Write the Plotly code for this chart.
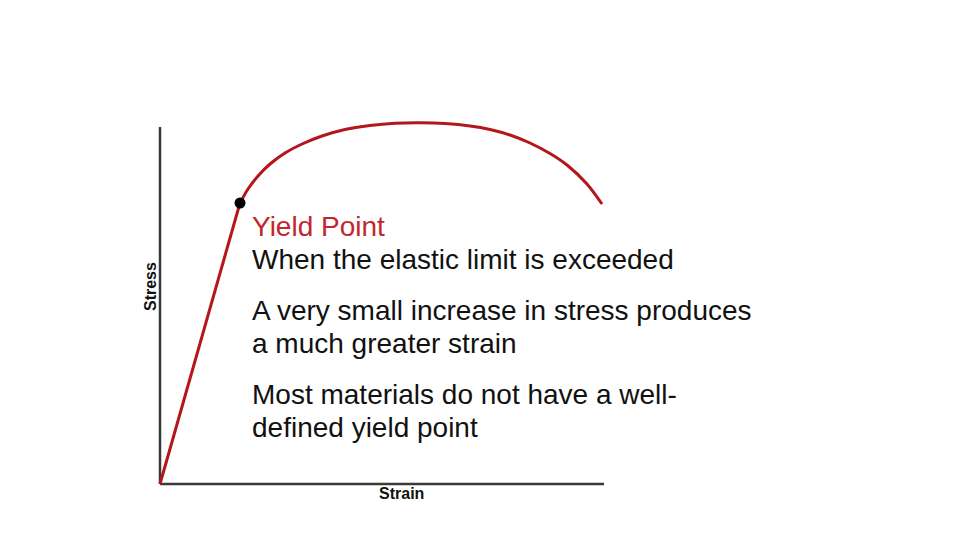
import plotly.graph_objects as go

# ---- data (arbitrary units) ----
elastic_strain = [0.0, 8.0]
elastic_stress = [0.0, 28.1]

plastic_strain = [8.0, 8.8, 9.8, 11.0, 12.5, 14.2, 16.2, 18.5, 21.0, 23.5, 26.0,
                  28.5, 31.0, 33.0, 35.0, 37.0, 39.0, 40.7, 42.7, 44.2]
plastic_stress = [28.1, 29.5, 30.8, 32.0, 33.1, 34.0, 34.8, 35.45, 35.85, 36.07, 36.12,
                  36.04, 35.8, 35.45, 34.9, 34.1, 33.05, 31.9, 30.0, 28.0]

yield_point = (8.0, 28.1)
axis_max_strain = 44.4
axis_max_stress = 35.7

x_label = "Strain"
y_label = "Stress"
title_line = "Yield Point"
body_lines = [
    "When the elastic limit is exceeded",
    "A very small increase in stress produces",
    "a much greater strain",
    "Most materials do not have a well-",
    "defined yield point",
]

# ---- layout helpers ----
W, H = 960, 540
OFF = 8  # page body margin
ML, MR, MT, MB = 142, 354, 92, 54
PW, PH = W - ML - MR, H - MT - MB


def px(x):
    return (x - OFF - ML) / PW


def py(y):
    return (H - MB - (y - OFF)) / PH


RED = "#B3161C"
TEXT_RED = "#C0282D"
AXIS = "#3a3a3a"

fig = go.Figure()
fig.add_trace(go.Scatter(x=elastic_strain, y=elastic_stress, mode="lines",
                         line=dict(color=RED, width=3), hoverinfo="skip"))
fig.add_trace(go.Scatter(x=plastic_strain, y=plastic_stress, mode="lines",
                         line=dict(color=RED, width=3, shape="spline", smoothing=0.8),
                         hoverinfo="skip"))
fig.add_trace(go.Scatter(x=[yield_point[0]], y=[yield_point[1]], mode="markers",
                         marker=dict(color="black", size=11), hoverinfo="skip"))

fig.add_shape(type="line", x0=0, y0=0, x1=0, y1=axis_max_stress,
              line=dict(color=AXIS, width=2.5), layer="below")
fig.add_shape(type="line", x0=0, y0=0, x1=axis_max_strain, y1=0,
              line=dict(color=AXIS, width=2.5), layer="below")

font_family = "Liberation Sans, Arial, sans-serif"
TXT = 28

ann = []
ann.append(dict(text=title_line, x=px(250), y=py(226), xref="paper", yref="paper",
                xanchor="left", yanchor="middle", showarrow=False,
                font=dict(family=font_family, size=TXT, color=TEXT_RED)))
ys = [259, 310, 343, 394, 427]
for t, yy in zip(body_lines, ys):
    ann.append(dict(text=t, x=px(250), y=py(yy), xref="paper", yref="paper",
                    xanchor="left", yanchor="middle", showarrow=False,
                    font=dict(family=font_family, size=TXT, color="#111111")))

ann.append(dict(text="<b>" + x_label + "</b>", x=px(401), y=py(493), xref="paper",
                yref="paper", xanchor="center", yanchor="middle", showarrow=False,
                font=dict(family=font_family, size=16, color="#111111")))
ann.append(dict(text="<b>" + y_label + "</b>", x=px(150), y=py(287), xref="paper",
                yref="paper", xanchor="center", yanchor="middle", showarrow=False,
                textangle=-90,
                font=dict(family=font_family, size=16, color="#111111")))

fig.update_layout(
    width=W, height=H,
    margin=dict(l=ML, r=MR, t=MT, b=MB, pad=0),
    paper_bgcolor="white", plot_bgcolor="white",
    showlegend=False,
    xaxis=dict(range=[-1.0, 45.4], visible=False, fixedrange=True),
    yaxis=dict(range=[-1.0, 38.4], visible=False, fixedrange=True),
    annotations=ann,
)

fig.write_html("out.html")
